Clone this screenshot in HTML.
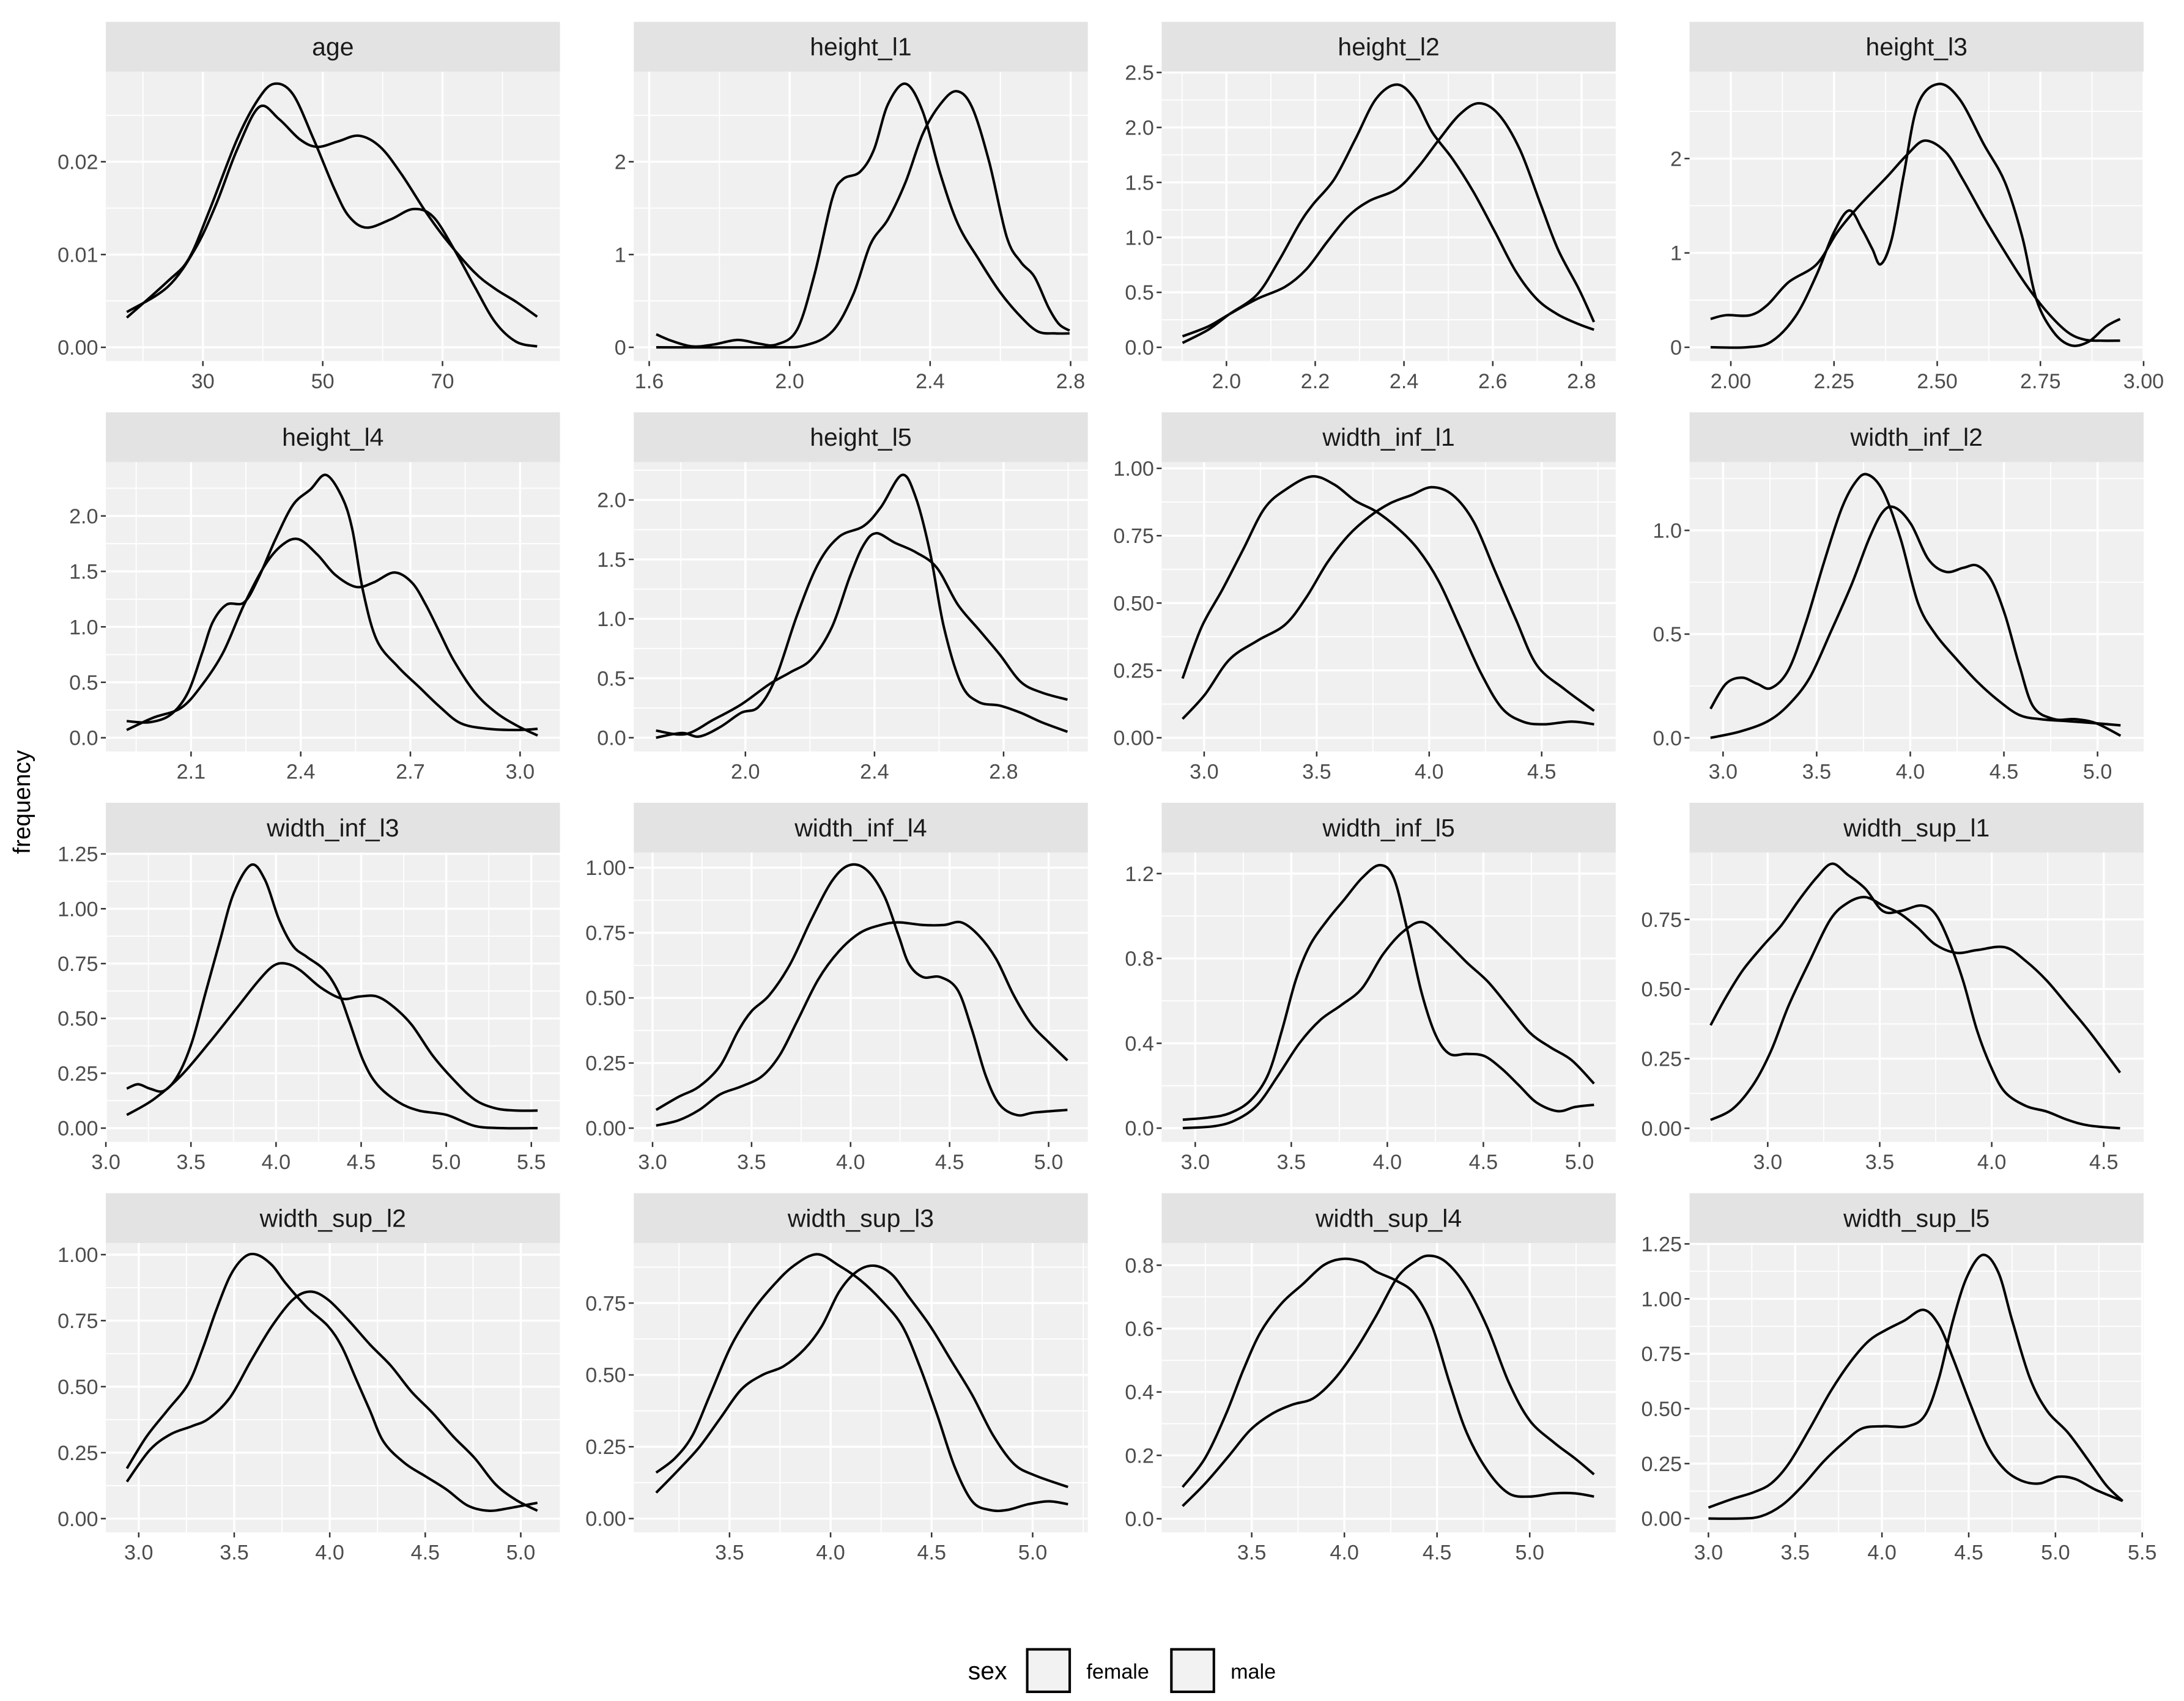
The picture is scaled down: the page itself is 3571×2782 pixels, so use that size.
<!DOCTYPE html>
<html><head><meta charset="utf-8"><title>Density facets</title>
<style>
html,body{margin:0;padding:0;background:#fff;}
svg{display:block;}
text{font-family:"Liberation Sans",Arial,sans-serif;}
</style></head>
<body>
<svg id="chart" xmlns="http://www.w3.org/2000/svg" width="3571" height="2782" viewBox="0 0 1568 1221.6" preserveAspectRatio="none">
<rect x="0" y="0" width="1568" height="1221.6" fill="#ffffff"/>
<text x="17" y="576" transform="rotate(-90 17 576)" text-anchor="middle" dominant-baseline="middle" font-size="17" fill="#000">frequency</text>
<g>
<text x="695" y="1206" font-size="18" fill="#000">sex</text>
<rect x="737.5" y="1184.5" width="30.5" height="30.5" fill="#f2f2f2" stroke="#000" stroke-width="1.8"/>
<text x="780" y="1205.5" font-size="15" fill="#000">female</text>
<rect x="841" y="1184.5" width="30.5" height="30.5" fill="#f2f2f2" stroke="#000" stroke-width="1.8"/>
<text x="883.5" y="1205.5" font-size="15" fill="#000">male</text>
</g>
</svg>
<script>
// ---------- data ----------
const panelTitles = ["age","height_l1","height_l2","height_l3","height_l4","height_l5","width_inf_l1","width_inf_l2","width_inf_l3","width_inf_l4","width_inf_l5","width_sup_l1","width_sup_l2","width_sup_l3","width_sup_l4","width_sup_l5"];

const age_c1x = [17.3,24.1,27.6,31.0,35.7,39.2,41.9,45.0,48.5,52.0,54.4,57.3,61.4,65.1,68.4,71.9,75.4,78.8,82.3,85.8];
const age_c1y = [0.0032,0.0071,0.0095,0.0146,0.0224,0.0267,0.0284,0.0273,0.0224,0.0170,0.0141,0.0129,0.0138,0.0149,0.0141,0.0106,0.0065,0.0027,0.0006,0.0001];
const age_c2x = [17.3,24.1,28.7,32.2,35.7,39.4,42.7,46.2,49.1,52.6,56.1,59.6,63.1,67.2,70.6,75.3,78.8,82.3,85.8];
const age_c2y = [0.0038,0.0065,0.0106,0.0154,0.0213,0.0259,0.0246,0.0224,0.0216,0.0222,0.0228,0.0216,0.0187,0.0146,0.0116,0.0081,0.0063,0.0049,0.0033];

const h1_c1x = [1.620,1.664,1.723,1.783,1.852,1.912,1.962,2.021,2.071,2.121,2.151,2.200,2.240,2.280,2.330,2.379,2.429,2.479,2.538,2.598,2.658,2.707,2.757,2.797];
const h1_c1y = [0.14,0.07,0.01,0.03,0.08,0.04,0.03,0.19,0.79,1.60,1.81,1.89,2.13,2.62,2.84,2.54,1.87,1.33,0.95,0.60,0.33,0.17,0.15,0.15];
const h1_c2x = [1.620,1.942,2.042,2.121,2.181,2.230,2.280,2.330,2.379,2.429,2.475,2.519,2.568,2.618,2.658,2.697,2.737,2.767,2.797];
const h1_c2y = [0,0,0.02,0.17,0.57,1.11,1.38,1.78,2.30,2.62,2.76,2.59,2.00,1.19,0.92,0.76,0.43,0.25,0.18];

const h2_c1x = [1.901,1.959,2.006,2.069,2.117,2.164,2.195,2.243,2.290,2.337,2.384,2.424,2.463,2.510,2.557,2.605,2.652,2.699,2.746,2.794,2.828];
const h2_c1y = [0.04,0.16,0.30,0.48,0.78,1.12,1.30,1.53,1.89,2.26,2.39,2.26,1.96,1.71,1.41,1.05,0.69,0.44,0.30,0.21,0.16];
const h2_c2x = [1.901,1.959,2.006,2.069,2.132,2.180,2.227,2.274,2.321,2.384,2.432,2.479,2.526,2.569,2.613,2.661,2.708,2.747,2.794,2.828];
const h2_c2y = [0.10,0.19,0.30,0.44,0.55,0.71,0.96,1.19,1.33,1.44,1.64,1.89,2.12,2.22,2.12,1.80,1.30,0.89,0.53,0.23];

const h3_c1x = [1.951,2.039,2.098,2.157,2.208,2.250,2.287,2.318,2.343,2.363,2.390,2.419,2.453,2.503,2.554,2.613,2.664,2.706,2.740,2.782,2.824,2.867,2.909,2.943];
const h3_c1y = [0,0,0.06,0.33,0.77,1.22,1.45,1.25,1.04,0.88,1.15,1.83,2.57,2.79,2.63,2.15,1.75,1.17,0.51,0.16,0.02,0.06,0.22,0.30];
const h3_c2x = [1.951,1.988,2.047,2.089,2.140,2.208,2.258,2.309,2.377,2.427,2.470,2.520,2.562,2.613,2.664,2.714,2.765,2.816,2.858,2.900,2.943];
const h3_c2y = [0.30,0.34,0.34,0.45,0.69,0.88,1.22,1.49,1.80,2.04,2.19,2.07,1.78,1.38,1.01,0.67,0.38,0.16,0.08,0.07,0.07];

const h4_c1x = [1.924,1.987,2.045,2.092,2.131,2.159,2.197,2.245,2.283,2.331,2.379,2.427,2.469,2.513,2.541,2.570,2.608,2.666,2.723,2.780,2.838,2.914,2.991,3.048];
const h4_c1y = [0.15,0.14,0.21,0.41,0.77,1.04,1.20,1.22,1.43,1.79,2.10,2.24,2.37,2.17,1.88,1.33,0.88,0.64,0.46,0.28,0.13,0.08,0.07,0.08];
const h4_c2x = [1.924,1.996,2.073,2.131,2.188,2.245,2.303,2.350,2.394,2.446,2.494,2.551,2.599,2.656,2.704,2.742,2.780,2.818,2.876,2.933,2.991,3.048];
const h4_c2y = [0.07,0.18,0.27,0.48,0.77,1.20,1.56,1.74,1.79,1.65,1.47,1.36,1.40,1.49,1.40,1.20,0.95,0.70,0.41,0.23,0.11,0.02];

const h5_c1x = [1.723,1.803,1.857,1.922,1.987,2.041,2.095,2.160,2.225,2.290,2.366,2.420,2.485,2.528,2.572,2.615,2.669,2.723,2.788,2.853,2.918,2.998];
const h5_c1y = [0,0.04,0.01,0.09,0.21,0.26,0.51,1.03,1.46,1.69,1.78,1.94,2.21,2.02,1.56,0.93,0.45,0.30,0.27,0.21,0.13,0.05];
const h5_c2x = [1.723,1.814,1.900,1.987,2.074,2.139,2.204,2.268,2.323,2.366,2.405,2.463,2.528,2.593,2.658,2.723,2.788,2.853,2.918,2.998];
const h5_c2y = [0.06,0.03,0.15,0.28,0.45,0.55,0.66,0.93,1.35,1.62,1.72,1.64,1.56,1.43,1.12,0.91,0.70,0.47,0.38,0.32];

const wi1_c1x = [2.904,2.988,3.081,3.174,3.267,3.360,3.478,3.578,3.671,3.764,3.857,3.950,4.043,4.137,4.230,4.323,4.416,4.509,4.634,4.733];
const wi1_c1y = [0.22,0.41,0.55,0.70,0.85,0.92,0.97,0.94,0.88,0.84,0.78,0.70,0.58,0.41,0.24,0.11,0.06,0.05,0.06,0.05];
const wi1_c2x = [2.904,3.003,3.112,3.236,3.360,3.453,3.547,3.640,3.733,3.826,3.919,4.012,4.106,4.199,4.292,4.385,4.478,4.602,4.733];
const wi1_c2y = [0.07,0.16,0.29,0.36,0.42,0.52,0.65,0.75,0.82,0.87,0.90,0.93,0.90,0.80,0.62,0.44,0.27,0.18,0.10];

const wi2_c1x = [2.933,3.015,3.101,3.183,3.257,3.351,3.444,3.537,3.631,3.705,3.769,3.854,3.948,4.041,4.134,4.246,4.358,4.470,4.582,4.694,4.843,4.993,5.123];
const wi2_c1y = [0.14,0.26,0.29,0.26,0.24,0.33,0.56,0.84,1.10,1.23,1.27,1.19,0.96,0.65,0.50,0.38,0.27,0.18,0.11,0.09,0.08,0.07,0.06];
const wi2_c2x = [2.933,3.090,3.239,3.351,3.463,3.575,3.687,3.780,3.854,3.918,4.004,4.097,4.190,4.284,4.358,4.433,4.507,4.582,4.657,4.769,4.881,4.993,5.123];
const wi2_c2y = [0.00,0.03,0.08,0.16,0.29,0.51,0.74,0.96,1.09,1.11,1.03,0.86,0.80,0.82,0.83,0.76,0.59,0.35,0.15,0.09,0.09,0.07,0.01];

const wi3_c1x = [3.123,3.189,3.259,3.341,3.423,3.505,3.587,3.669,3.751,3.854,3.936,4.018,4.100,4.182,4.285,4.367,4.429,4.511,4.593,4.716,4.839,5.003,5.167,5.332,5.537];
const wi3_c1y = [0.18,0.20,0.18,0.17,0.24,0.39,0.62,0.85,1.07,1.20,1.13,0.95,0.83,0.78,0.72,0.62,0.49,0.31,0.20,0.12,0.08,0.06,0.01,0,0];
const wi3_c2x = [3.123,3.279,3.443,3.608,3.772,3.895,3.985,4.059,4.141,4.264,4.388,4.490,4.593,4.695,4.798,4.921,5.044,5.167,5.291,5.414,5.537];
const wi3_c2y = [0.06,0.13,0.24,0.39,0.55,0.67,0.74,0.75,0.72,0.64,0.59,0.60,0.60,0.55,0.47,0.33,0.22,0.13,0.09,0.08,0.08];

const wi4_c1x = [3.018,3.131,3.236,3.342,3.430,3.501,3.589,3.695,3.801,3.907,3.995,4.083,4.171,4.242,4.295,4.365,4.453,4.541,4.612,4.683,4.753,4.841,4.929,5.095];
const wi4_c1y = [0.07,0.12,0.16,0.24,0.37,0.45,0.51,0.63,0.80,0.95,1.01,0.99,0.89,0.74,0.63,0.58,0.58,0.53,0.38,0.20,0.09,0.05,0.06,0.07];
const wi4_c2x = [3.018,3.131,3.236,3.342,3.448,3.554,3.642,3.730,3.836,3.942,4.048,4.153,4.242,4.365,4.471,4.559,4.647,4.735,4.824,4.912,5.000,5.095];
const wi4_c2y = [0.01,0.03,0.07,0.13,0.16,0.20,0.28,0.41,0.57,0.68,0.75,0.78,0.79,0.78,0.78,0.79,0.74,0.65,0.51,0.40,0.33,0.26];

const wi5_c1x = [2.935,3.069,3.178,3.287,3.378,3.451,3.524,3.596,3.687,3.778,3.869,3.960,4.033,4.105,4.178,4.251,4.324,4.415,4.505,4.596,4.687,4.778,4.887,4.978,5.076];
const wi5_c1y = [0.04,0.05,0.07,0.13,0.25,0.46,0.70,0.86,0.98,1.08,1.18,1.24,1.18,0.93,0.64,0.44,0.35,0.35,0.34,0.28,0.20,0.12,0.08,0.10,0.11];
const wi5_c2x = [2.935,3.105,3.215,3.324,3.433,3.542,3.651,3.760,3.869,3.978,4.087,4.189,4.305,4.415,4.524,4.633,4.742,4.851,4.960,5.076];
const wi5_c2y = [0.00,0.01,0.04,0.11,0.25,0.40,0.51,0.58,0.66,0.82,0.93,0.97,0.88,0.78,0.69,0.57,0.45,0.38,0.32,0.21];

const ws1_c1x = [2.745,2.813,2.891,2.984,3.062,3.140,3.218,3.287,3.358,3.436,3.514,3.592,3.685,3.748,3.810,3.872,3.935,3.997,4.059,4.153,4.246,4.340,4.433,4.573];
const ws1_c1y = [0.37,0.47,0.57,0.66,0.73,0.82,0.90,0.95,0.91,0.86,0.78,0.78,0.80,0.77,0.67,0.53,0.35,0.22,0.13,0.08,0.06,0.03,0.01,0.00];
const ws1_c2x = [2.745,2.844,2.938,3.016,3.093,3.187,3.280,3.358,3.436,3.514,3.592,3.670,3.748,3.841,3.935,4.059,4.153,4.246,4.340,4.433,4.573];
const ws1_c2y = [0.03,0.07,0.16,0.28,0.44,0.60,0.75,0.81,0.83,0.80,0.77,0.72,0.66,0.63,0.64,0.65,0.60,0.53,0.44,0.35,0.20];

const ws2_c1x = [2.938,3.040,3.150,3.259,3.333,3.406,3.479,3.552,3.618,3.698,3.771,3.881,3.990,4.064,4.137,4.210,4.283,4.393,4.502,4.612,4.721,4.831,4.941,5.087];
const ws2_c1y = [0.19,0.31,0.41,0.51,0.64,0.79,0.92,0.99,1.00,0.96,0.89,0.80,0.73,0.65,0.53,0.41,0.29,0.21,0.16,0.11,0.05,0.03,0.04,0.06];
const ws2_c2x = [2.938,3.058,3.168,3.278,3.369,3.479,3.589,3.698,3.808,3.899,3.990,4.100,4.210,4.319,4.429,4.539,4.648,4.758,4.868,4.977,5.087];
const ws2_c2y = [0.14,0.26,0.32,0.35,0.38,0.46,0.60,0.73,0.83,0.86,0.83,0.75,0.66,0.58,0.48,0.40,0.31,0.23,0.13,0.07,0.03];

const ws3_c1x = [3.137,3.230,3.317,3.403,3.507,3.611,3.715,3.818,3.933,4.043,4.147,4.251,4.355,4.441,4.528,4.614,4.701,4.787,4.874,4.978,5.081,5.175];
const ws3_c1y = [0.16,0.21,0.29,0.43,0.60,0.72,0.81,0.88,0.92,0.88,0.83,0.76,0.67,0.53,0.36,0.18,0.06,0.03,0.03,0.05,0.06,0.05];
const ws3_c2x = [3.137,3.248,3.352,3.455,3.559,3.663,3.767,3.871,3.957,4.043,4.130,4.216,4.303,4.389,4.493,4.597,4.701,4.804,4.908,5.012,5.175];
const ws3_c2y = [0.09,0.17,0.25,0.35,0.45,0.50,0.53,0.59,0.67,0.79,0.86,0.88,0.85,0.77,0.67,0.55,0.43,0.29,0.19,0.15,0.11];

const ws4_c1x = [3.127,3.247,3.361,3.455,3.549,3.662,3.775,3.888,3.990,4.096,4.171,4.284,4.378,4.472,4.567,4.661,4.774,4.887,5.000,5.132,5.245,5.347];
const ws4_c1y = [0.10,0.19,0.33,0.47,0.59,0.68,0.74,0.80,0.82,0.81,0.78,0.75,0.71,0.61,0.43,0.27,0.15,0.08,0.07,0.08,0.08,0.07];
const ws4_c2x = [3.127,3.247,3.379,3.492,3.606,3.719,3.832,3.945,4.058,4.171,4.284,4.378,4.454,4.548,4.661,4.774,4.887,5.000,5.132,5.245,5.347];
const ws4_c2y = [0.04,0.11,0.20,0.28,0.33,0.36,0.38,0.44,0.53,0.64,0.76,0.81,0.83,0.81,0.73,0.60,0.43,0.31,0.24,0.19,0.14];

const ws5_c1x = [3.000,3.141,3.262,3.362,3.463,3.584,3.705,3.825,3.926,4.027,4.127,4.240,4.329,4.409,4.510,4.610,4.711,4.812,4.912,5.013,5.114,5.234,5.387];
const ws5_c1y = [0.05,0.09,0.12,0.16,0.25,0.41,0.58,0.72,0.81,0.86,0.90,0.95,0.88,0.73,0.52,0.33,0.22,0.17,0.16,0.19,0.18,0.13,0.08];
const ws5_c2x = [3.000,3.181,3.302,3.423,3.543,3.664,3.785,3.886,4.007,4.147,4.248,4.329,4.409,4.490,4.582,4.671,4.751,4.852,4.952,5.073,5.194,5.294,5.387];
const ws5_c2y = [0.00,0.00,0.01,0.06,0.15,0.26,0.35,0.41,0.42,0.42,0.47,0.64,0.90,1.10,1.20,1.12,0.90,0.64,0.49,0.39,0.26,0.15,0.08];

// tick values and labels
const xTickVals = [[30,50,70],[1.6,2.0,2.4,2.8],[2.0,2.2,2.4,2.6,2.8],[2.0,2.25,2.5,2.75,3.0],
  [2.1,2.4,2.7,3.0],[2.0,2.4,2.8],[3.0,3.5,4.0,4.5],[3.0,3.5,4.0,4.5,5.0],
  [3.0,3.5,4.0,4.5,5.0,5.5],[3.0,3.5,4.0,4.5,5.0],[3.0,3.5,4.0,4.5,5.0],[3.0,3.5,4.0,4.5],
  [3.0,3.5,4.0,4.5,5.0],[3.5,4.0,4.5,5.0],[3.5,4.0,4.5,5.0],[3.0,3.5,4.0,4.5,5.0,5.5]];
const xTickLabels = [["30","50","70"],["1.6","2.0","2.4","2.8"],["2.0","2.2","2.4","2.6","2.8"],["2.00","2.25","2.50","2.75","3.00"],
  ["2.1","2.4","2.7","3.0"],["2.0","2.4","2.8"],["3.0","3.5","4.0","4.5"],["3.0","3.5","4.0","4.5","5.0"],
  ["3.0","3.5","4.0","4.5","5.0","5.5"],["3.0","3.5","4.0","4.5","5.0"],["3.0","3.5","4.0","4.5","5.0"],["3.0","3.5","4.0","4.5"],
  ["3.0","3.5","4.0","4.5","5.0"],["3.5","4.0","4.5","5.0"],["3.5","4.0","4.5","5.0"],["3.0","3.5","4.0","4.5","5.0","5.5"]];
const yTickVals = [[0,0.01,0.02],[0,1,2],[0,0.5,1,1.5,2,2.5],[0,1,2],
  [0,0.5,1,1.5,2],[0,0.5,1,1.5,2],[0,0.25,0.5,0.75,1],[0,0.5,1],
  [0,0.25,0.5,0.75,1,1.25],[0,0.25,0.5,0.75,1],[0,0.4,0.8,1.2],[0,0.25,0.5,0.75],
  [0,0.25,0.5,0.75,1],[0,0.25,0.5,0.75],[0,0.2,0.4,0.6,0.8],[0,0.25,0.5,0.75,1,1.25]];
const yTickLabels = [["0.00","0.01","0.02"],["0","1","2"],["0.0","0.5","1.0","1.5","2.0","2.5"],["0","1","2"],
  ["0.0","0.5","1.0","1.5","2.0"],["0.0","0.5","1.0","1.5","2.0"],["0.00","0.25","0.50","0.75","1.00"],["0.0","0.5","1.0"],
  ["0.00","0.25","0.50","0.75","1.00","1.25"],["0.00","0.25","0.50","0.75","1.00"],["0.0","0.4","0.8","1.2"],["0.00","0.25","0.50","0.75"],
  ["0.00","0.25","0.50","0.75","1.00"],["0.00","0.25","0.50","0.75"],["0.0","0.2","0.4","0.6","0.8"],["0.00","0.25","0.50","0.75","1.00","1.25"]];

// axis limits (scale domains)
const xLims = [[13.8,89.6],[1.556,2.849],[1.854,2.877],[1.900,3.0],[1.867,3.109],[1.654,3.061],[2.811,4.829],[2.821,5.246],
  [3.0,5.668],[2.905,5.198],[2.825,5.189],[2.651,4.678],[2.828,5.205],[3.026,5.273],[3.014,5.464],[2.891,5.508]];
const yLims = [[-0.00148,0.0297],[-0.148,2.97],[-0.125,2.507],[-0.146,2.92],[-0.124,2.485],[-0.116,2.318],[-0.051,1.023],[-0.066,1.329],
  [-0.063,1.256],[-0.053,1.058],[-0.065,1.299],[-0.049,0.990],[-0.052,1.044],[-0.048,0.959],[-0.043,0.870],[-0.063,1.254]];

const curve1X = [age_c1x,h1_c1x,h2_c1x,h3_c1x,h4_c1x,h5_c1x,wi1_c1x,wi2_c1x,wi3_c1x,wi4_c1x,wi5_c1x,ws1_c1x,ws2_c1x,ws3_c1x,ws4_c1x,ws5_c1x];
const curve1Y = [age_c1y,h1_c1y,h2_c1y,h3_c1y,h4_c1y,h5_c1y,wi1_c1y,wi2_c1y,wi3_c1y,wi4_c1y,wi5_c1y,ws1_c1y,ws2_c1y,ws3_c1y,ws4_c1y,ws5_c1y];
const curve2X = [age_c2x,h1_c2x,h2_c2x,h3_c2x,h4_c2x,h5_c2x,wi1_c2x,wi2_c2x,wi3_c2x,wi4_c2x,wi5_c2x,ws1_c2x,ws2_c2x,ws3_c2x,ws4_c2x,ws5_c2x];
const curve2Y = [age_c2y,h1_c2y,h2_c2y,h3_c2y,h4_c2y,h5_c2y,wi1_c2y,wi2_c2y,wi3_c2y,wi4_c2y,wi5_c2y,ws1_c2y,ws2_c2y,ws3_c2y,ws4_c2y,ws5_c2y];

// ---------- layout ----------
const NS = "http://www.w3.org/2000/svg";
const svg = document.getElementById("chart");
const colX = [76, 455, 834, 1213];
const panelW = 326, stripH = 35.8, plotH = 207.8, rowTop0 = 15.7, rowStep = 280.4;

function mk(tag, attrs, parent) {
  const e = document.createElementNS(NS, tag);
  for (const k in attrs) e.setAttribute(k, attrs[k]);
  parent.appendChild(e);
  return e;
}
function smoothPath(pts) {
  let d = "M" + pts[0][0].toFixed(2) + "," + pts[0][1].toFixed(2);
  for (let i = 0; i < pts.length - 1; i++) {
    const p0 = pts[i - 1] || pts[i], p1 = pts[i], p2 = pts[i + 1], p3 = pts[i + 2] || p2;
    const c1x = p1[0] + (p2[0] - p0[0]) / 6, c1y = p1[1] + (p2[1] - p0[1]) / 6;
    const c2x = p2[0] - (p3[0] - p1[0]) / 6, c2y = p2[1] - (p3[1] - p1[1]) / 6;
    d += " C" + c1x.toFixed(2) + "," + c1y.toFixed(2) + " " + c2x.toFixed(2) + "," + c2y.toFixed(2) + " " + p2[0].toFixed(2) + "," + p2[1].toFixed(2);
  }
  return d;
}

for (let p = 0; p < panelTitles.length; p++) {
  const r = Math.floor(p / 4), c = p % 4;
  const left = colX[c], stripTop = rowTop0 + rowStep * r, top = stripTop + stripH, bottom = top + plotH;
  const xl = xLims[p], yl = yLims[p];
  const sx = v => left + (v - xl[0]) / (xl[1] - xl[0]) * panelW;
  const sy = v => bottom - (v - yl[0]) / (yl[1] - yl[0]) * plotH;

  const g = mk("g", {}, svg);
  
  

  const strip = mk("rect", {x: left, y: stripTop, width: panelW, height: stripH, fill: "#e3e3e3"}, g);
  
  
  const st = mk("text", {x: left + panelW / 2, y: stripTop + stripH / 2 + 6.2, "text-anchor": "middle", "font-size": "18", fill: "#1a1a1a"}, g);
  st.textContent = panelTitles[p];
  
  

  const bg = mk("rect", {x: left, y: top, width: panelW, height: plotH, fill: "#f0f0f0"}, g);
  
  

  const xt = xTickVals[p], yt = yTickVals[p];
  const xs = xt[1] - xt[0], ys = yt[1] - yt[0];
  for (let v = xt[0] - xs / 2; v <= xl[1]; v += xs) {
    if (v < xl[0]) continue;
    const l = mk("line", {x1: sx(v), x2: sx(v), y1: top, y2: bottom, stroke: "#fff", "stroke-width": "0.8"}, g);
    
    
  }
  for (let v = yt[0] - ys / 2; v <= yl[1]; v += ys) {
    if (v < yl[0]) continue;
    const l = mk("line", {x1: left, x2: left + panelW, y1: sy(v), y2: sy(v), stroke: "#fff", "stroke-width": "0.8"}, g);
    
    
  }
  xt.forEach((v, i) => {
    const X = sx(v);
    const l = mk("line", {x1: X, x2: X, y1: top, y2: bottom, stroke: "#fff", "stroke-width": "1.5"}, g);
    
    
    const t = mk("line", {x1: X, x2: X, y1: bottom, y2: bottom + 3.6, stroke: "#333", "stroke-width": "1.1"}, g);
    
    
    const tx = mk("text", {x: X, y: bottom + 19.5, "text-anchor": "middle", "font-size": "15", fill: "#4d4d4d"}, g);
    tx.textContent = xTickLabels[p][i];
    
    
  });
  yt.forEach((v, i) => {
    const Y = sy(v);
    const l = mk("line", {x1: left, x2: left + panelW, y1: Y, y2: Y, stroke: "#fff", "stroke-width": "1.5"}, g);
    
    
    const t = mk("line", {x1: left - 3.6, x2: left, y1: Y, y2: Y, stroke: "#333", "stroke-width": "1.1"}, g);
    
    
    const tx = mk("text", {x: left - 5.5, y: Y + 5.3, "text-anchor": "end", "font-size": "15", fill: "#4d4d4d"}, g);
    tx.textContent = yTickLabels[p][i];
    
    
  });
  const pts1 = curve1X[p].map((v, i) => [sx(v), sy(curve1Y[p][i])]);
  const pts2 = curve2X[p].map((v, i) => [sx(v), sy(curve2Y[p][i])]);
  const c1 = mk("path", {d: smoothPath(pts1), fill: "none", stroke: "#000", "stroke-width": "1.8", "stroke-linejoin": "round"}, g);
  
  
  const c2 = mk("path", {d: smoothPath(pts2), fill: "none", stroke: "#000", "stroke-width": "1.8", "stroke-linejoin": "round"}, g);
  
  
}
</script>
</body></html>
